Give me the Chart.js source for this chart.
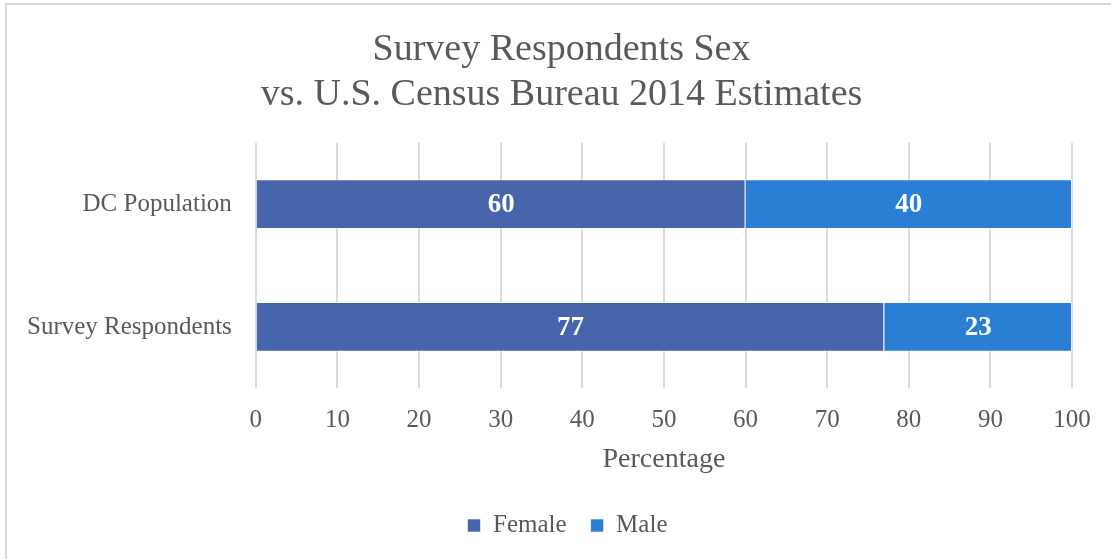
<!DOCTYPE html>
<html lang="en">
<head>
  <meta charset="utf-8" />
  <title>Survey Respondents Sex</title>
  <style>
    * {
      margin: 0;
      padding: 0;
      box-sizing: border-box;
    }

    body {
      width: 1111px;
      height: 559px;
      overflow: hidden;
      background: #ffffff;
      position: relative;
    }

    /* chart frame, only the top and left edges fall inside the window */
    .frame {
      position: absolute;
      left: 5px;
      top: 3px;
      width: 1200px;
      height: 700px;
      border: 2px solid #d9d9d9;
    }

    .container {
      position: absolute;
      left: 0;
      top: 0;
      width: 1111px;
      height: 559px;
    }
  </style>
</head>
<body>
  <div class="frame"></div>
  <div class="container">
    <canvas id="chart"></canvas>
  </div>

  <script src="https://cdn.jsdelivr.net/npm/chart.js@4.4.1/dist/chart.umd.min.js"></script>
  <script>
    const categories = ["DC Population", "Survey Respondents"];
    const female = [60, 77];
    const male = [40, 23];
    const xTicks = [0, 10, 20, 30, 40, 50, 60, 70, 80, 90, 100];

    const textGrey = "#595959";
    const serif = "'Liberation Serif', 'DejaVu Serif', serif";

    // writes each bar's value in the middle of its segment
    const barValues = {
      id: "barValues",
      afterDatasetsDraw(chart) {
        const ctx = chart.ctx;
        ctx.save();
        ctx.fillStyle = "#ffffff";
        ctx.font = "bold 27px " + serif;
        ctx.textAlign = "center";
        ctx.textBaseline = "middle";
        chart.data.datasets.forEach((ds, i) => {
          chart.getDatasetMeta(i).data.forEach((bar, j) => {
            const p = bar.getProps(["x", "y", "base"], true);
            ctx.fillText(String(ds.data[j]), (p.x + p.base) / 2, p.y + 1);
          });
        });
        ctx.restore();
      }
    };

    // title and legend sit centred on the whole frame, not on the padded area
    const centreBlocks = {
      id: "centreBlocks",
      afterLayout(chart) {
        const shift = (box, dx) => {
          if (!box) return;
          box.left += dx;
          box.right += dx;
        };
        shift(chart.titleBlock, 24);
        shift(chart.legend, 30);
      }
    };

    new Chart(document.getElementById("chart"), {
      type: "bar",
      data: {
        labels: categories,
        datasets: [
          {
            label: "Female",
            data: female,
            backgroundColor: "#4765ab",
            borderColor: "rgba(255,255,255,0.6)",
            borderWidth: 1,
            categoryPercentage: 1,
            barPercentage: 0.405
          },
          {
            label: "Male",
            data: male,
            backgroundColor: "#2a7fd5",
            borderColor: "rgba(255,255,255,0.6)",
            borderWidth: 1,
            categoryPercentage: 1,
            barPercentage: 0.405
          }
        ]
      },
      options: {
        indexAxis: "y",
        responsive: true,
        maintainAspectRatio: false,
        animation: false,
        layout: { padding: { left: 3, right: 39, top: 28, bottom: 11 } },
        scales: {
          x: {
            stacked: true,
            min: 0,
            max: 100,
            afterBuildTicks: (axis) => {
              axis.ticks = xTicks.map((v) => ({ value: v }));
            },
            grid: { color: "#d9d9d9", lineWidth: 2, drawTicks: false },
            border: { display: false },
            ticks: { color: textGrey, font: { family: serif, size: 25 }, padding: 17 },
            title: {
              display: true,
              text: "Percentage",
              color: textGrey,
              font: { family: serif, size: 28 },
              padding: { top: -10, bottom: 13 }
            }
          },
          y: {
            stacked: true,
            grid: { display: false, drawTicks: false },
            border: { display: false },
            ticks: { color: textGrey, font: { family: serif, size: 25 }, padding: 24 }
          }
        },
        plugins: {
          title: {
            display: true,
            text: ["Survey Respondents Sex", "vs. U.S. Census Bureau 2014 Estimates"],
            color: textGrey,
            font: { family: serif, size: 38, weight: "normal", lineHeight: 1.18 },
            padding: { top: 0, bottom: 25 }
          },
          legend: {
            position: "bottom",
            labels: {
              color: textGrey,
              font: { family: serif, size: 25 },
              boxWidth: 13,
              boxHeight: 13,
              padding: 24
            }
          },
          tooltip: { enabled: false }
        }
      },
      plugins: [barValues, centreBlocks]
    });
  </script>
</body>
</html>
